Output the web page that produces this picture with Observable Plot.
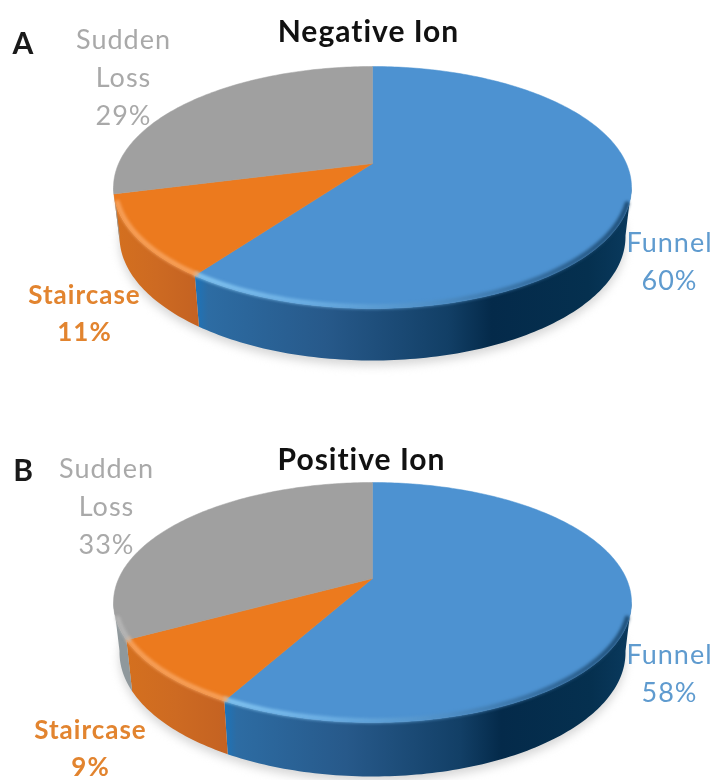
<!DOCTYPE html>
<html>
<head>
<meta charset="utf-8">
<script src="https://cdn.jsdelivr.net/npm/d3@7"></script>
<script src="https://cdn.jsdelivr.net/npm/@observablehq/plot@0.6"></script>
<style>
html,body{margin:0;padding:0;background:#fff}
svg{display:block}
</style>
</head>
<body>
<div id="chart"></div>
<script>
const categories = ["Funnel", "Staircase", "Sudden Loss"];
const negativeValues = [60, 11, 29];
const positiveValues = [58, 9, 33];
const panelLetters = ["A", "B"];
const panelTitles = ["Negative Ion", "Positive Ion"];
const topColors = ["#4d92d1", "#ec7a1e", "#a0a0a0"];
const labelColors = ["#5f9bcf", "#e2842f", "#a9a9a9"];

// page layout, in panel pixels
const W = 716, H = 390, RX = 259;
const panels = [
  {values: negativeValues, cy: 187, ry: 121, apex: 0.198, cy2: 236, ry2: 124,
   title: [368, 32], letter: [23, 44],
   labels: [[669, 258], [84, 310], [123, 74]]},
  {values: positiveValues, cy: 212, ry: 120, apex: 0.2, cy2: 262, ry2: 124,
   title: [361, 70], letter: [23, 81],
   labels: [[669, 280], [90, 355], [106, 113]]}
];
const cx = 372, RX2 = 253;

function panelChart(p, idx) {
  const pre = "p" + idx;
  // unit-circle coordinates of the pie plane; the tilt moves the apex off the ellipse centre
  const s = Math.sqrt(1 - p.apex * p.apex);
  const rim = t => { // t = share of the full circle, clockwise from the top
    const a = 2 * Math.PI * t, X = Math.sin(a), Y = Math.cos(a), d = 1 + p.apex * Y;
    return {x: X * s / d, y: (Y + p.apex) / d};
  };
  const ux = px => (px - cx) / RX, uy = py => (p.cy - py) / p.ry;
  const total = d3.sum(p.values);
  let acc = 0;
  const slices = p.values.map((v, i) => {
    const t0 = acc / total; acc += v; const t1 = acc / total;
    const n = Math.ceil((t1 - t0) * 360);
    return {i, arc: d3.range(n + 1).map(k => rim(t0 + (t1 - t0) * k / n))};
  });
  const lower = q => ({x: q.x * RX2 / RX, y: uy(p.cy2) + q.y * p.ry2 / p.ry});
  const apex = {x: 0, y: p.apex};
  const wallFills = [`url(#${pre}blue)`, `url(#${pre}orange)`, "#8f989c"];
  const rimStrokes = [`url(#${pre}rim)`, "#f9a765", "#b9b9b9"];

  const defs = () => {
    const d = d3.create("svg:defs");
    const grad = (id, stops) => {
      const g = d.append("linearGradient").attr("id", pre + id);
      stops.forEach(([o, c]) => g.append("stop").attr("offset", o).attr("stop-color", c));
    };
    grad("blue", [[0, "#1c74bb"], [0.03, "#2d6ca3"], [0.3, "#27598a"], [0.58, "#123f66"], [0.68, "#042a4a"], [0.9, "#05304f"], [1, "#0a3a5e"]]);
    grad("orange", [[0, "#d4701f"], [0.5, "#cd6a22"], [1, "#c46222"]]);
    grad("rim", [[0, "#8ed0f8"], [0.25, "#74b6e8"], [0.55, "#4f8ec4"], [0.8, "#2d618f"], [1, "#143f63"]]);
    return d.node();
  };

  const marks = [defs];
  // soft ground shadow
  marks.push(Plot.line(d3.range(0, 361).map(k => { const a = k * Math.PI / 180; return {x: Math.sin(a) * RX2 / RX, y: uy(p.cy2 + 5) + Math.cos(a) * p.ry2 / p.ry}; }),
    {x: "x", y: "y", fill: "#d6d6d6", stroke: "none", imageFilter: "blur(5px)"}));
  // side walls
  slices.forEach(sl => {
    const front = sl.arc.filter(q => q.y <= 0.02);
    if (front.length < 2) return;
    marks.push(Plot.line([...front, ...front.slice().reverse().map(lower)],
      {x: "x", y: "y", fill: wallFills[sl.i], stroke: "none"}));
  });
  // top surface
  slices.forEach(sl => {
    marks.push(Plot.line([apex, ...sl.arc, apex],
      {x: "x", y: "y", fill: topColors[sl.i], stroke: topColors[sl.i], strokeWidth: 0.5}));
  });
  // bevel highlight along the front rim of each slice
  slices.forEach(sl => {
    const front = sl.arc.filter(q => q.y <= -0.12);
    if (front.length < 2) return;
    marks.push(Plot.line(front.map(q => ({x: q.x * 0.992, y: q.y * 0.985})),
      {x: "x", y: "y", stroke: rimStrokes[sl.i], strokeWidth: 5, strokeOpacity: 0.8, imageFilter: "blur(1.5px)"}));
  });
  // labels
  const rows = categories.map((c, i) => ({
    text: `${c.replace(" ", "\n")}\n${p.values[i]}%`,
    x: ux(p.labels[i][0]), y: uy(p.labels[i][1]), i
  }));
  [0, 1, 2].forEach(i => marks.push(Plot.text(rows.filter(r => r.i === i), {
    x: "x", y: "y", text: "text", fill: labelColors[i], fontSize: i === 1 ? 26 : 27, lineHeight: i === 1 ? 1.45 : 1.41,
    fontWeight: i === 1 ? 700 : 400, textAnchor: "middle", lineAnchor: "middle", imageFilter: "blur(0.4px)"
  })));
  marks.push(Plot.text([panelTitles[idx]], {
    x: () => ux(p.title[0]), y: () => uy(p.title[1]), text: d => d, fill: "#111", fontSize: 30,
    fontWeight: 700, textAnchor: "middle", lineAnchor: "middle", imageFilter: "blur(0.3px)"
  }));
  marks.push(Plot.text([panelLetters[idx]], {
    x: () => ux(p.letter[0]), y: () => uy(p.letter[1]), text: d => d, fill: "#1a1a1a", fontSize: 30,
    fontWeight: 700, textAnchor: "middle", lineAnchor: "middle", imageFilter: "blur(0.3px)"
  }));

  return Plot.plot({
    width: W, height: H, margin: 0,
    style: {fontFamily: "Lato, sans-serif", background: "#fff", letterSpacing: "1px"},
    x: {domain: [ux(0), ux(W)], range: [0, W], axis: null},
    y: {domain: [uy(H), uy(0)], range: [H, 0], axis: null},
    marks
  });
}
const root = document.getElementById("chart");
panels.forEach((p, i) => root.appendChild(panelChart(p, i)));
</script>
</body>
</html>
